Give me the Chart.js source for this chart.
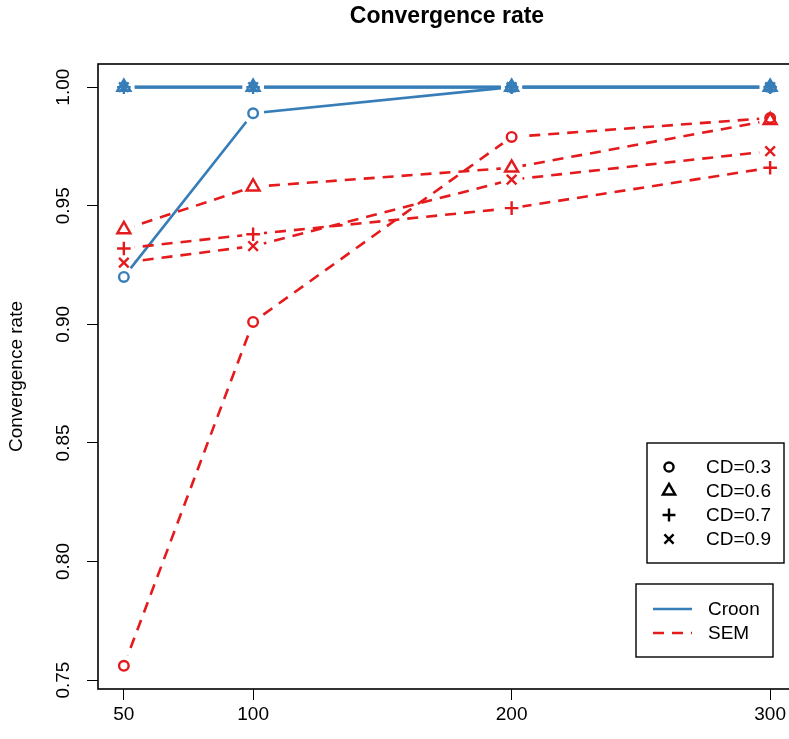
<!DOCTYPE html>
<html>
<head>
<meta charset="utf-8">
<title>Convergence rate</title>
<script src="https://cdn.jsdelivr.net/npm/chart.js@4.4.1/dist/chart.umd.min.js"></script>
<style>
  html, body { margin: 0; padding: 0; background: #fff; overflow: hidden; }
  canvas { display: block; }
</style>
</head>
<body>
<canvas id="convChart" width="815" height="739"></canvas>
<script>
const sampleSizes = [50, 100, 200, 300];
const cdLabels = ['CD=0.3', 'CD=0.6', 'CD=0.7', 'CD=0.9'];
const methodLabels = ['Croon', 'SEM'];

const croonCD03 = [0.920, 0.989, 1.000, 1.000];
const croonCD06 = [1.000, 1.000, 1.000, 1.000];
const croonCD07 = [1.000, 1.000, 1.000, 1.000];
const croonCD09 = [1.000, 1.000, 1.000, 1.000];

const semCD03 = [0.756, 0.901, 0.979, 0.987];
const semCD06 = [0.940, 0.958, 0.966, 0.986];
const semCD07 = [0.932, 0.938, 0.949, 0.966];
const semCD09 = [0.926, 0.933, 0.961, 0.973];

const yTicks = [0.75, 0.80, 0.85, 0.90, 0.95, 1.00];

const BLUE = '#377EB8';
const RED = '#E41A1C';
const FONT = "'Liberation Sans', Arial, Helvetica, sans-serif";
const BASE = 19;

const markerStyles = ['circle', 'triangle', 'cross', 'crossRot'];
const markerRadius = [4.8, 7.5, 6.8, 6.8];
const semDash = [11, 8];

const croonSeries = [croonCD03, croonCD06, croonCD07, croonCD09];
const semSeries = [semCD03, semCD06, semCD07, semCD09];

const toPoints = values => sampleSizes.map((x, i) => ({ x: x, y: values[i] }));

// 4% padding on both axes, like plot() does by default
const allValues = croonSeries.concat(semSeries).flat();
const yLo = Math.min(...allValues), yHi = Math.max(...allValues);
const yPad = (yHi - yLo) * 0.04;
const xLo = Math.min(...sampleSizes), xHi = Math.max(...sampleSizes);
const xPad = (xHi - xLo) * 0.04;

const datasets = [];
[[croonSeries, BLUE, [], 4], [semSeries, RED, semDash, 2]].forEach(([series, color, dash, order], m) => {
  series.forEach((values, k) => {
    // the line itself, cut open around each point by gapPlugin
    datasets.push({
      label: methodLabels[m] + ' ' + cdLabels[k],
      data: toPoints(values),
      borderColor: color,
      borderWidth: 2.6,
      borderDash: dash,
      pointRadius: 0,
      pointHoverRadius: 0,
      fill: false,
      tension: 0,
      gapRadius: 11,
      order: order
    });
    // open symbols on top
    datasets.push({
      label: methodLabels[m] + ' ' + cdLabels[k] + ' points',
      data: toPoints(values),
      showLine: false,
      pointStyle: markerStyles[k],
      pointRadius: markerRadius[k],
      pointHoverRadius: markerRadius[k],
      pointBorderColor: color,
      pointBackgroundColor: 'rgba(0,0,0,0)',
      pointBorderWidth: 2.4,
      order: order - 1
    });
  });
});

const gapPlugin = {
  id: 'gapPlugin',
  beforeDatasetDraw(chart, args) {
    const ds = chart.data.datasets[args.index];
    if (!ds.gapRadius) return;
    const ctx = chart.ctx;
    const r = ds.gapRadius;
    ctx.save();
    ctx.beginPath();
    ctx.rect(0, 0, chart.width, chart.height);
    args.meta.data.forEach(pt => {
      ctx.moveTo(pt.x + r, pt.y);
      ctx.arc(pt.x, pt.y, r, 0, Math.PI * 2);
    });
    ctx.clip('evenodd');
  },
  afterDatasetDraw(chart, args) {
    const ds = chart.data.datasets[args.index];
    if (ds.gapRadius) chart.ctx.restore();
  }
};

const framePlugin = {
  id: 'framePlugin',
  afterDraw(chart) {
    const ctx = chart.ctx;
    const area = chart.chartArea;
    const yScale = chart.scales.y;
    ctx.save();
    ctx.strokeStyle = '#000';
    ctx.lineWidth = 1.6;
    ctx.strokeRect(area.left, area.top, area.right - area.left, area.bottom - area.top);

    ctx.fillStyle = '#000';
    // main title
    ctx.font = 'bold 23px ' + FONT;
    ctx.textAlign = 'center';
    ctx.textBaseline = 'alphabetic';
    ctx.fillText('Convergence rate', (area.left + area.right) / 2, 23);

    // y axis title and rotated tick labels
    ctx.font = BASE + 'px ' + FONT;
    ctx.save();
    ctx.translate(22, (area.top + area.bottom) / 2);
    ctx.rotate(-Math.PI / 2);
    ctx.fillText('Convergence rate', 0, 0);
    ctx.restore();
    yTicks.forEach(v => {
      ctx.save();
      ctx.translate(69, yScale.getPixelForValue(v));
      ctx.rotate(-Math.PI / 2);
      ctx.fillText(v.toFixed(2), 0, 0);
      ctx.restore();
    });

    // legend for the CD levels
    ctx.lineWidth = 1.4;
    ctx.strokeRect(647, 443, 137, 120);
    ctx.textAlign = 'left';
    ctx.textBaseline = 'middle';
    cdLabels.forEach((txt, k) => {
      const y = 467 + k * 24;
      ctx.save();
      ctx.strokeStyle = '#000';
      ctx.fillStyle = 'rgba(0,0,0,0)';
      ctx.lineWidth = 2.4;
      Chart.helpers.drawPoint(ctx, {
        pointStyle: markerStyles[k],
        radius: markerRadius[k] * 0.95,
        rotation: 0,
        borderWidth: 2.4
      }, 669, y);
      ctx.restore();
      ctx.fillText(txt, 706, y + 1);
    });

    // legend for the methods
    ctx.lineWidth = 1.4;
    ctx.strokeStyle = '#000';
    ctx.strokeRect(636, 584, 137, 73);
    [[BLUE, []], [RED, semDash]].forEach(([color, dash], m) => {
      const y = 609 + m * 24;
      ctx.save();
      ctx.strokeStyle = color;
      ctx.lineWidth = 2.6;
      ctx.setLineDash(dash);
      ctx.beginPath();
      ctx.moveTo(653, y);
      ctx.lineTo(692, y);
      ctx.stroke();
      ctx.restore();
      ctx.fillText(methodLabels[m], 708, y + 1);
    });
    ctx.restore();
  }
};

new Chart(document.getElementById('convChart'), {
  type: 'line',
  data: { datasets: datasets },
  options: {
    responsive: false,
    animation: false,
    devicePixelRatio: 1,
    layout: { autoPadding: false, padding: { top: 64, right: 19, bottom: 0, left: 0 } },
    plugins: {
      legend: { display: false },
      title: { display: false },
      tooltip: { enabled: false }
    },
    scales: {
      x: {
        type: 'linear',
        min: xLo - xPad,
        max: xHi + xPad,
        afterBuildTicks: s => { s.ticks = sampleSizes.map(v => ({ value: v })); },
        afterFit: s => { s.height = 50; },
        grid: { drawOnChartArea: false, drawTicks: true, tickLength: 11, color: '#000', lineWidth: 1 },
        border: { display: false },
        ticks: {
          color: '#000',
          font: { family: FONT, size: BASE },
          padding: 3,
          maxRotation: 0,
          autoSkip: false,
          callback: v => String(v)
        }
      },
      y: {
        type: 'linear',
        min: yLo - yPad,
        max: yHi + yPad,
        afterBuildTicks: s => { s.ticks = yTicks.map(v => ({ value: v })); },
        afterFit: s => { s.width = 98; },
        grid: { drawOnChartArea: false, drawTicks: true, tickLength: 11, color: '#000', lineWidth: 1 },
        border: { display: false },
        ticks: { display: false }
      }
    }
  },
  plugins: [gapPlugin, framePlugin]
});
</script>
</body>
</html>
